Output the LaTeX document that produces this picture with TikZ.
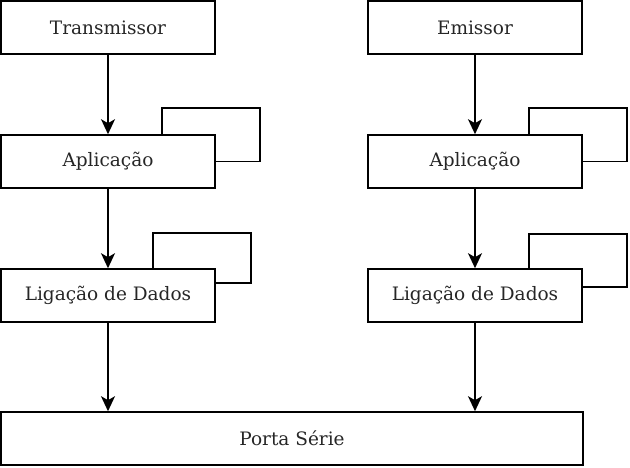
\documentclass[tikz,border=0pt]{standalone}
\usepackage{fontspec}
\setmainfont{DejaVu Serif}
\usetikzlibrary{arrows.meta}
\begin{document}
\begin{tikzpicture}[x=1pt,y=-1pt,
  box/.style={draw, line width=1.6pt, rectangle, inner sep=0pt, font=\fontsize{18.5}{22}\selectfont, text=black!85},
  arr/.style={line width=1.6pt, -{Stealth[length=15pt,width=14pt,inset=4pt]}},
  loopline/.style={line width=1.6pt}]
\useasboundingbox (0,0) rectangle (630,467);
\node[box, minimum width=214pt, minimum height=53pt] (t) at (108,27.5) {Transmissor};
\node[box, minimum width=214pt, minimum height=53pt] (a1) at (108,161.5) {Aplicação};
\node[box, minimum width=214pt, minimum height=53pt] (l1) at (108,295.5) {Ligação de Dados};
\node[box, minimum width=214pt, minimum height=53pt] (e) at (475,27.5) {Emissor};
\node[box, minimum width=214pt, minimum height=53pt] (a2) at (475,161.5) {Aplicação};
\node[box, minimum width=214pt, minimum height=53pt] (l2) at (475,295.5) {Ligação de Dados};
\node[box, minimum width=582pt, minimum height=53pt] (p) at (292,438.5) {Porta Série};
\draw[arr] (t) -- (a1);
\draw[arr] (a1) -- (l1);
\draw[arr] (l1.south) -- (l1.south |- p.north);
\draw[arr] (e) -- (a2);
\draw[arr] (a2) -- (l2);
\draw[arr] (l2.south) -- (l2.south |- p.north);
\draw[loopline] (a1.north -| 162,0) |- (260,108) |- (a1.east);
\draw[loopline] (l1.north -| 153,0) |- (251,233) |- (l1.east |- 0,283);
\draw[loopline] (a2.north -| 529,0) |- (627,108) |- (a2.east);
\draw[loopline] (l2.north -| 529,0) |- (627,234) |- (l2.east |- 0,287);
\end{tikzpicture}
\end{document}
